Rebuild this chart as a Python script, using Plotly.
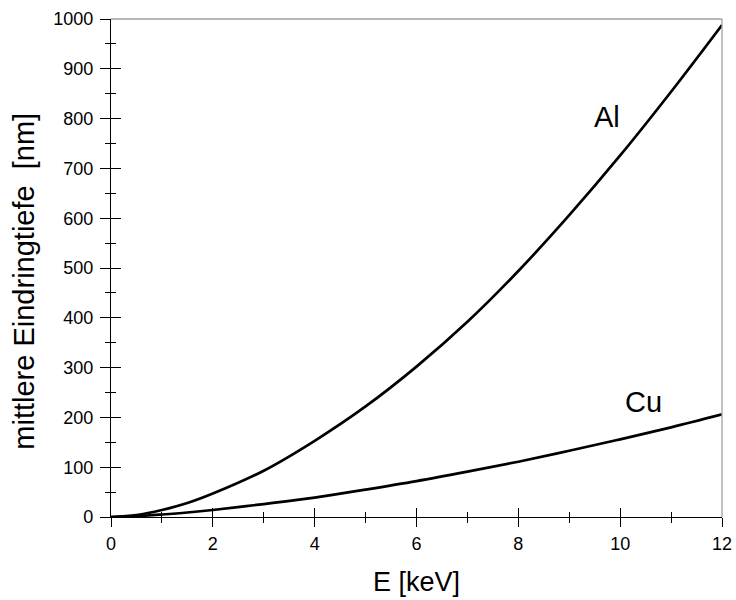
import plotly.graph_objects as go

energy_kev = [0, 0.5, 1, 1.5, 2, 3, 4, 5, 6, 7, 8, 9, 10, 11, 12]
depth_al = [0, 4, 14, 28, 47, 93, 153, 222, 302, 392, 494, 606, 726, 854, 988]
depth_cu = [0, 1.7, 5, 9, 14, 26, 39, 55, 72, 91, 111, 133, 156, 180, 206]

label_al = ("Al", 9.74, 804)
label_cu = ("Cu", 10.45, 230)

x_title = "E [keV]"
y_title = "mittlere Eindringtiefe  [nm]"

FONT = "Liberation Sans, Arial, sans-serif"

fig = go.Figure()
for ys in (depth_al, depth_cu):
    fig.add_trace(go.Scatter(x=energy_kev, y=ys, mode="lines", line=dict(color="black", width=2.7, shape="spline"),
                             showlegend=False, hoverinfo="skip"))
# invisible trace on overlay axes (for inner tick halves)
fig.add_trace(go.Scatter(x=[0], y=[0], xaxis="x2", yaxis="y2", mode="markers", marker=dict(opacity=0),
                         showlegend=False, hoverinfo="skip"))

for name, x, y in (label_al, label_cu):
    fig.add_annotation(x=x, y=y, text=name, showarrow=False, font=dict(family=FONT, size=29, color="black"))

fig.add_annotation(xref="paper", yref="paper", x=-0.142, y=0.473, xanchor="center", yanchor="middle",
                   text=y_title, textangle=-90, showarrow=False, font=dict(family=FONT, size=29, color="black"))

common_x = dict(range=[0, 12], dtick=2, tick0=0, ticklen=9, tickwidth=1.3, tickcolor="black", automargin=False,
                showgrid=False, zeroline=False, minor=dict(dtick=1, ticklen=5, tickwidth=1.3, tickcolor="black"))
common_y = dict(range=[0, 1000], dtick=100, tick0=0, ticklen=10, tickwidth=1.3, tickcolor="black", automargin=False,
                showgrid=False, zeroline=False, minor=dict(dtick=50, ticklen=5, tickwidth=1.3, tickcolor="black"))

fig.update_layout(
    width=736, height=600,
    margin=dict(l=111, r=14, t=19, b=83),
    paper_bgcolor="white", plot_bgcolor="white",
    font=dict(family=FONT, size=18, color="black"),
    xaxis=dict(**common_x, ticks="outside", showline=True, linecolor="black", linewidth=1.3,
               ticklabelstandoff=1,
               title=dict(text=x_title, font=dict(size=27), standoff=19), minor_ticks="outside"),
    yaxis=dict(**common_y, ticks="outside", showline=True, linecolor="black", linewidth=1.3,
               ticklabelstandoff=3, minor_ticks="outside"),
    xaxis2=dict(**common_x, overlaying="x", anchor="y2", side="bottom", ticks="inside", showticklabels=False,
                showline=False, minor_ticks="inside"),
    yaxis2=dict(**common_y, overlaying="y", anchor="x2", side="left", ticks="inside", showticklabels=False,
                showline=False, minor_ticks="inside"),
    shapes=[
        dict(type="line", xref="paper", yref="paper", x0=0, x1=1, y0=1, y1=1, line=dict(color="#a0a0a0", width=1.3)),
        dict(type="line", xref="paper", yref="paper", x0=1, x1=1, y0=0, y1=1, line=dict(color="#a0a0a0", width=1.3)),
    ],
)

# remove the default 8px page margin so the 736x600 figure fills the window exactly
fig.write_html("out.html", config={"displayModeBar": False},
               post_script="document.body.style.margin='0';document.documentElement.style.overflow='hidden';")
